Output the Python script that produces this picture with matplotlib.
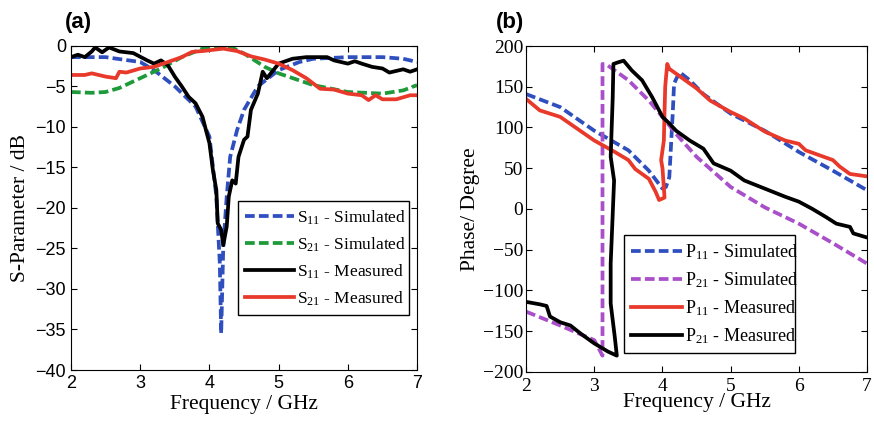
import numpy as np
import matplotlib
matplotlib.use("Agg")
import matplotlib.pyplot as plt

plt.rcParams['lines.scale_dashes'] = False
plt.rcParams['mathtext.fontset'] = 'custom'
plt.rcParams['mathtext.rm'] = 'Liberation Serif'
plt.rcParams['mathtext.it'] = 'Liberation Serif:italic'

# (a) S-parameters
s11_sim_f = [2.0, 2.5, 3.0, 3.2, 3.5, 3.8, 4.0, 4.1, 4.15, 4.17, 4.2, 4.25, 4.3, 4.4, 4.5, 4.7, 5.0, 5.3, 5.5, 6.0, 6.5, 6.8, 7.0]
s11_sim = [-1.4, -1.4, -2.0, -3.0, -5.0, -7.5, -11.2, -18.6, -26.8, -35.5, -24.8, -18.6, -13.7, -10.4, -7.9, -5.0, -3.0, -2.0, -1.6, -1.4, -1.4, -1.6, -2.0]

s21_sim_f = [2.0, 2.3, 2.5, 2.7, 3.0, 3.3, 3.6, 3.9, 4.1, 4.3, 4.5, 4.8, 5.0, 5.5, 6.0, 6.5, 6.8, 7.0]
s21_sim = [-5.7, -5.8, -5.7, -5.2, -4.0, -2.8, -1.4, -0.35, -0.1, -0.1, -0.95, -2.6, -3.4, -4.85, -5.7, -5.9, -5.5, -4.85]

s11_meas_f = [2.0, 2.1, 2.2, 2.3, 2.35, 2.45, 2.55, 2.7, 2.9, 3.1, 3.2, 3.3, 3.4, 3.5, 3.6, 3.7, 3.8, 3.9, 3.95,
              4.0, 4.05, 4.1, 4.12, 4.17, 4.2, 4.25, 4.28, 4.33, 4.38, 4.42, 4.5, 4.55, 4.6, 4.7, 4.77, 4.83,
              5.0, 5.2, 5.4, 5.7, 5.8, 6.0, 6.1, 6.2, 6.35, 6.5, 6.6, 6.8, 6.9, 7.0]
s11_meas = [-1.4, -1.1, -1.4, -0.7, -0.2, -0.8, -0.2, -0.7, -0.9, -1.8, -2.2, -1.8, -2.4, -3.8, -5.0, -6.3, -7.1, -8.75, -10.4,
            -12.0, -15.3, -17.8, -21.9, -22.7, -24.6, -22.3, -18.6, -16.6, -17.0, -13.7, -11.6, -11.2, -7.9, -5.9, -3.2, -4.0,
            -2.2, -1.6, -1.4, -1.4, -1.8, -2.2, -1.9, -2.2, -2.6, -2.8, -3.3, -2.9, -3.2, -2.9]

s21_meas_f = [2.0, 2.2, 2.3, 2.5, 2.65, 2.7, 2.8, 3.0, 3.2, 3.4, 3.6, 3.75, 3.9, 4.0, 4.2, 4.4, 4.6, 4.8, 5.0, 5.2,
              5.4, 5.6, 5.8, 6.0, 6.2, 6.3, 6.4, 6.5, 6.7, 6.9, 7.0]
s21_meas = [-3.6, -3.6, -3.4, -3.8, -4.0, -3.2, -3.3, -2.8, -2.6, -2.0, -1.4, -0.75, -0.65, -0.55, -0.35, -0.65, -1.3, -1.7, -2.2, -3.0,
            -4.0, -5.3, -5.4, -5.9, -6.1, -6.7, -6.1, -6.6, -6.6, -6.1, -6.1]

# (b) phase
p11_sim_f = [2.0, 2.5, 3.0, 3.5, 3.8, 4.0, 4.05, 4.1, 4.15, 4.17, 4.25, 4.4, 4.6, 5.0, 5.5, 6.0, 6.5, 7.0]
p11_sim = [141, 125, 96, 72, 47, 25, 27, 39, 117, 154, 168, 158, 141, 117, 96, 70, 47, 23]

p21_sim_f = [2.0, 2.5, 3.0, 3.12, 3.12, 3.2, 3.5, 3.8, 4.0, 4.2, 4.5, 5.0, 5.5, 6.0, 6.5, 7.0]
p21_sim = [-126, -143, -161, -180, 178, 176, 158, 133, 113, 92, 64, 27, 2, -18, -42, -67]

p11_meas_f = [2.0, 2.2, 2.5, 3.0, 3.3, 3.5, 3.6, 3.7, 3.8, 3.9, 3.95, 4.03, 4.0, 3.98, 4.02, 4.03, 4.04, 4.05, 4.07,
              4.1, 4.3, 4.5, 4.7, 5.0, 5.2, 5.5, 5.8, 6.0, 6.1, 6.3, 6.5, 6.6, 6.75, 7.0]
p11_meas = [135, 121, 113, 84, 70, 60, 49, 43, 37, 21, 11, 14, 50, 60, 84, 120, 150, 160, 178,
            172, 160, 148, 133, 119, 111, 95, 84, 80, 72, 66, 60, 52, 43, 40]

p21_meas_f = [2.0, 2.2, 2.3, 2.35, 2.5, 2.65, 2.8, 3.0, 3.2, 3.33, 3.3, 3.24, 3.24, 3.29, 3.24, 3.27, 3.28,
              3.35, 3.43, 3.55, 3.7, 3.85, 4.0, 4.1, 4.2, 4.4, 4.6, 4.75, 5.0, 5.2, 5.5, 5.8, 6.0, 6.2, 6.4, 6.55, 6.75, 6.8, 7.0]
p21_meas = [-114, -117, -119, -132, -139, -143, -153, -165, -175, -180, -157, -116, -67, 35, 64, 137, 178,
            180, 182, 170, 158, 137, 113, 105, 96, 84, 74, 56, 47, 35, 25, 15, 9, 0, -10, -18, -22, -30, -35]

blue = '#2f4fbf'
green = '#1f9a3a'
red = '#e8392b'
purple = '#a94fc9'
dash = (0, (7, 3))
lw = 2.7

fig = plt.figure(figsize=(8.74, 4.30), dpi=100)
ax1 = fig.add_axes([0.0812, 0.1395, 0.396, 0.754])
ax2 = fig.add_axes([0.602, 0.135, 0.390, 0.758])

ax1.plot(s11_sim_f, s11_sim, color=blue, lw=lw, ls=dash, label='S$_{11}$ - Simulated')
ax1.plot(s21_sim_f, s21_sim, color=green, lw=lw, ls=dash, label='S$_{21}$ - Simulated')
ax1.plot(s11_meas_f, s11_meas, color='black', lw=lw, label='S$_{11}$ - Measured')
ax1.plot(s21_meas_f, s21_meas, color=red, lw=lw, label='S$_{21}$ - Measured')
ax1.set_xlim(2, 7)
ax1.set_ylim(-40, 0)
ax1.set_xticks(range(2, 8))
ax1.set_yticks(range(-40, 1, 5))
ax1.tick_params(direction='in', top=True, right=True, length=4, labelsize=13)
for t in ax1.get_xticklabels() + ax1.get_yticklabels():
    t.set_family('Liberation Sans')
ax1.set_xlabel('Frequency / GHz', family='Liberation Serif', fontsize=15.5, labelpad=2)
ax1.set_ylabel('S-Parameter / dB', family='Liberation Serif', fontsize=15.5, labelpad=4)
leg1 = ax1.legend(loc='lower left', bbox_to_anchor=(0.483, 0.17, 0.494, 0.352), mode='expand',
                  prop={'family': 'Liberation Serif', 'size': 12.5}, fancybox=False, framealpha=1,
                  edgecolor='black', handlelength=2.8, handletextpad=0.2, borderaxespad=0, labelspacing=0.5)
leg1.get_frame().set_linewidth(1.0)

ax2.plot(p11_sim_f, p11_sim, color=blue, lw=lw, ls=dash, label='P$_{11}$ - Simulated')
ax2.plot(p21_sim_f, p21_sim, color=purple, lw=lw, ls=dash, label='P$_{21}$ - Simulated')
ax2.plot(p11_meas_f, p11_meas, color=red, lw=lw, label='P$_{11}$ - Measured')
ax2.plot(p21_meas_f, p21_meas, color='black', lw=lw, label='P$_{21}$ - Measured')
ax2.set_xlim(2, 7)
ax2.set_ylim(-200, 200)
ax2.set_xticks(range(2, 8))
ax2.set_yticks(range(-200, 201, 50))
ax2.tick_params(direction='in', top=True, right=True, length=4, labelsize=14, pad=2)
ax2.tick_params(axis='x', pad=4)
for t in ax2.get_xticklabels() + ax2.get_yticklabels():
    t.set_family('Liberation Serif')
ax2.set_xlabel('Frequency / GHz', family='Liberation Serif', fontsize=15.5, labelpad=-1)
ax2.set_ylabel('Phase/ Degree', family='Liberation Serif', fontsize=15.5, labelpad=2)
leg2 = ax2.legend(loc='lower left', bbox_to_anchor=(0.287, 0.058, 0.502, 0.381), mode='expand',
                  prop={'family': 'Liberation Serif', 'size': 13}, fancybox=False, framealpha=1,
                  edgecolor='black', handlelength=2.8, handletextpad=0.2, borderaxespad=0, labelspacing=0.45)
leg2.get_frame().set_linewidth(1.0)

fig.text(0.074, 0.935, '(a)', family='Liberation Sans', fontweight='bold', fontsize=16)
fig.text(0.567, 0.935, '(b)', family='Liberation Sans', fontweight='bold', fontsize=16)

fig.savefig('out.png', dpi=100)
